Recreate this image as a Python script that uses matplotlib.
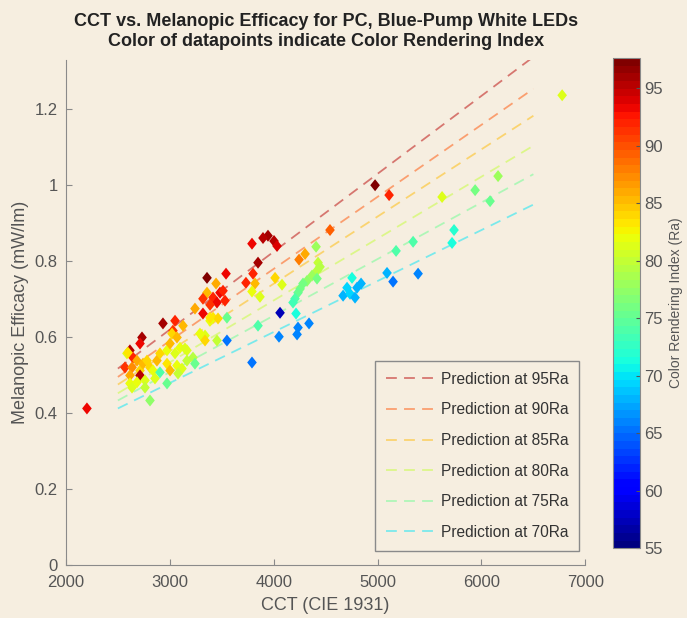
import numpy as np
import matplotlib
matplotlib.use('Agg')
import matplotlib.pyplot as plt
from matplotlib.colors import Normalize

# datapoints: CCT, melanopic efficacy, CRI
cct = [2202, 6777, 4976, 5111, 4542, 5621, 6160, 5939, 6083, 5736,
       5717, 5342, 5178, 5390, 5149, 5091, 4754, 4706, 4668, 4735,
       4802, 4841, 4783, 4061, 4215, 4051, 4234, 4225, 4340, 3791,
       3550, 3849, 3550, 4408, 4427, 4446, 4417, 4369, 4321, 4282,
       4254, 4234, 4205, 4186, 4417, 4013, 4080, 4244, 4302, 3945,
       4003, 4032, 3897, 3791, 3849, 3801, 3733, 3820, 3791, 3868,
       3358, 3541, 3445, 3358, 3319, 3416, 3483, 3531, 3454, 3387,
       3512, 3416, 3464, 3387, 3339, 3454, 3242, 3050, 2934, 3127,
       3030, 3319, 3387, 3319, 2732, 2616, 2587, 2713, 2645, 2684,
       2568, 2636, 2713, 2742, 2780, 2809, 2713, 2616, 2616, 2684,
       2761, 2636, 2838, 2876, 2905, 2973, 3002, 3021, 3069, 3098,
       3165, 3050, 2973, 2905, 3002, 3069, 3117, 3165, 3223, 3146,
       3242, 2973, 2809, 2761, 2857, 3079, 3290, 3339, 2597]
eff = [0.412, 1.237, 1.000, 0.974, 0.882, 0.969, 1.024, 0.987, 0.958, 0.882,
       0.848, 0.851, 0.827, 0.767, 0.746, 0.769, 0.756, 0.730, 0.709, 0.714,
       0.730, 0.741, 0.704, 0.664, 0.662, 0.601, 0.625, 0.607, 0.636, 0.533,
       0.591, 0.630, 0.651, 0.838, 0.796, 0.785, 0.775, 0.762, 0.748, 0.741,
       0.727, 0.717, 0.701, 0.691, 0.754, 0.756, 0.738, 0.804, 0.819, 0.867,
       0.853, 0.840, 0.861, 0.846, 0.796, 0.767, 0.743, 0.741, 0.720, 0.706,
       0.756, 0.767, 0.741, 0.717, 0.701, 0.704, 0.717, 0.696, 0.691, 0.685,
       0.722, 0.651, 0.649, 0.643, 0.604, 0.591, 0.675, 0.643, 0.636, 0.630,
       0.617, 0.662, 0.651, 0.599, 0.599, 0.565, 0.557, 0.583, 0.546, 0.538,
       0.520, 0.520, 0.512, 0.530, 0.538, 0.520, 0.499, 0.499, 0.478, 0.481,
       0.486, 0.467, 0.512, 0.538, 0.557, 0.565, 0.583, 0.609, 0.599, 0.572,
       0.565, 0.557, 0.530, 0.507, 0.512, 0.525, 0.517, 0.538, 0.546, 0.570,
       0.530, 0.478, 0.433, 0.467, 0.491, 0.504, 0.609, 0.591, 0.559]
cri = [93, 81, 97, 92, 89, 81, 78, 76, 75, 72,
       71, 74, 74, 66, 65, 68, 71, 69, 68, 69,
       68, 68, 68, 57, 71, 66, 66, 66, 66, 65,
       65, 74, 75, 78, 80, 79, 79, 78, 77, 76,
       76, 75, 74, 73, 76, 84, 81, 88, 86, 96,
       95, 94, 95, 93, 96, 92, 92, 85, 82, 81,
       97, 93, 86, 85, 91, 92, 93, 92, 93, 91,
       92, 83, 84, 82, 81, 80, 86, 92, 96, 85,
       91, 93, 83, 81, 96, 95, 81, 93, 92, 86,
       91, 87, 84, 85, 84, 84, 95, 86, 82, 82,
       81, 81, 82, 85, 84, 82, 85, 84, 85, 82,
       81, 81, 83, 74, 85, 82, 81, 80, 79, 81,
       75, 75, 77, 80, 81, 80, 82, 84, 83]

# prediction lines (value at start and end CCT)
pred_cri = [95, 90, 85, 80, 75, 70]
pred_cct = [2500, 6500]
pred_start = [0.517, 0.495, 0.475, 0.452, 0.433, 0.412]
pred_end = [1.338, 1.254, 1.183, 1.104, 1.029, 0.949]

bg = '#f6eee0'
grey = '#555555'
plt.rcParams['font.family'] = ['Liberation Sans', 'DejaVu Sans']

cmap = plt.get_cmap('jet', 64)
norm = Normalize(vmin=55, vmax=97.6)

fig = plt.figure(figsize=(6.87, 6.18), dpi=100, facecolor=bg)
ax = fig.add_axes([0.096, 0.086, 0.756, 0.817], facecolor=bg)

for c, y0, y1 in zip(pred_cri, pred_start, pred_end):
    ax.plot(pred_cct, [y0, y1], linestyle=(0, (6, 4)), lw=1.3,
            color=cmap(norm(c)), alpha=0.5, label=f'Prediction at {c}Ra')

diamond = [(0, 1), (0.8, 0), (0, -1), (-0.8, 0), (0, 1)]
sc = ax.scatter(cct, eff, c=cri, cmap=cmap, norm=norm, marker=diamond,
                s=75, linewidths=0, zorder=3)

ax.set_xlim(2000, 7000)
ax.set_ylim(0, 1.33)
ax.set_xticks(np.arange(2000, 7001, 1000))
ax.set_yticks([0, 0.2, 0.4, 0.6, 0.8, 1, 1.2])
ax.set_yticklabels(['0', '0.2', '0.4', '0.6', '0.8', '1', '1.2'])
for s in ['top', 'right']:
    ax.spines[s].set_visible(False)
for s in ['left', 'bottom']:
    ax.spines[s].set_color('#8a8a8a')
ax.tick_params(direction='in', length=4, color='#8a8a8a', labelcolor=grey,
               labelsize=12)
ax.tick_params(axis='x', pad=7)
ax.tick_params(axis='y', pad=6)
ax.set_xlabel('CCT (CIE 1931)', color=grey, fontsize=13, labelpad=5)
ax.set_ylabel('Melanopic Efficacy (mW/lm)', color=grey, fontsize=13,
              labelpad=4)
ax.set_title('CCT vs. Melanopic Efficacy for PC, Blue-Pump White LEDs\n'
             'Color of datapoints indicate Color Rendering Index',
             fontsize=13, fontweight='bold', color='#222222', pad=10,
             linespacing=1.2)

leg = ax.legend(loc='lower right', fontsize=11.2, labelspacing=1.0,
                handlelength=3.0, handletextpad=0.5, borderpad=0.7,
                fancybox=False, facecolor=bg, edgecolor='#8a8a8a',
                framealpha=1, bbox_to_anchor=(1.003, 0.013))
for t in leg.get_texts():
    t.set_color('#333333')

cax = fig.add_axes([0.892, 0.113, 0.039, 0.793])
cb = fig.colorbar(sc, cax=cax)
cb.set_ticks(np.arange(55, 96, 5))
cb.outline.set_edgecolor('#8a8a8a')
cax.tick_params(direction='in', length=3, color='#555555', labelcolor=grey,
                labelsize=12)
cb.set_label('Color Rendering Index (Ra)', color=grey, fontsize=10)

fig.savefig('out.png', dpi=100, facecolor=bg)
